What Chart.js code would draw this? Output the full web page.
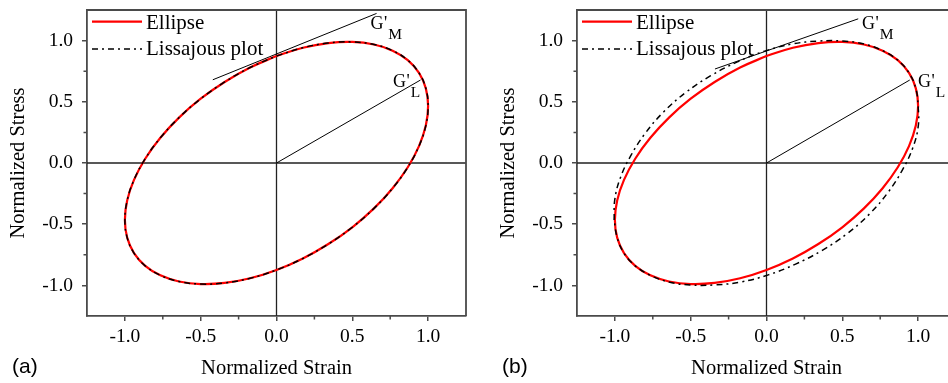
<!DOCTYPE html>
<html><head><meta charset="utf-8">
<script src="https://cdn.jsdelivr.net/npm/chart.js@4/dist/chart.umd.min.js"></script>
<style>
html,body{margin:0;padding:0;background:#fff;overflow:hidden;width:948px;height:383px;position:relative}
.w{position:absolute;top:0;width:490px;height:383px}
#wa{left:0}#wb{left:490px}
canvas{display:block}
</style></head><body>
<div class="w" id="wa"><canvas id="ca" width="490" height="383"></canvas></div>
<div class="w" id="wb"><canvas id="cb" width="490" height="383"></canvas></div>
<script>
// ---- data: [normalized strain, normalized stress] ----
const ellipseA = [[0,0.874],[0.174,0.942],[0.342,0.980],[0.500,0.989],[0.643,0.968],[0.766,0.918],[0.866,0.840],[0.940,0.736],[0.985,0.610],[1.000,0.465],[0.985,0.306],[0.940,0.138],[0.866,-0.035],[0.766,-0.206],[0.643,-0.371],[0.500,-0.525],[0.342,-0.662],[0.174,-0.780],[0,-0.874],[-0.174,-0.942],[-0.342,-0.980],[-0.500,-0.989],[-0.643,-0.968],[-0.766,-0.918],[-0.866,-0.840],[-0.940,-0.736],[-0.985,-0.610],[-1.000,-0.465],[-0.985,-0.306],[-0.940,-0.138],[-0.866,0.035],[-0.766,0.206],[-0.643,0.371],[-0.500,0.525],[-0.342,0.662],[-0.174,0.780],[0,0.874]];
const lissajousA = [[0,0.874],[0.174,0.942],[0.342,0.980],[0.500,0.989],[0.643,0.968],[0.766,0.918],[0.866,0.840],[0.940,0.736],[0.985,0.610],[1.000,0.465],[0.985,0.306],[0.940,0.138],[0.866,-0.035],[0.766,-0.206],[0.643,-0.371],[0.500,-0.525],[0.342,-0.662],[0.174,-0.780],[0,-0.874],[-0.174,-0.942],[-0.342,-0.980],[-0.500,-0.989],[-0.643,-0.968],[-0.766,-0.918],[-0.866,-0.840],[-0.940,-0.736],[-0.985,-0.610],[-1.000,-0.465],[-0.985,-0.306],[-0.940,-0.138],[-0.866,0.035],[-0.766,0.206],[-0.643,0.371],[-0.500,0.525],[-0.342,0.662],[-0.174,0.780],[0,0.874]];
const ellipseB = [[0,0.874],[0.174,0.942],[0.342,0.980],[0.500,0.989],[0.643,0.968],[0.766,0.918],[0.866,0.840],[0.940,0.736],[0.985,0.610],[1.000,0.465],[0.985,0.306],[0.940,0.138],[0.866,-0.035],[0.766,-0.206],[0.643,-0.371],[0.500,-0.525],[0.342,-0.662],[0.174,-0.780],[0,-0.874],[-0.174,-0.942],[-0.342,-0.980],[-0.500,-0.989],[-0.643,-0.968],[-0.766,-0.918],[-0.866,-0.840],[-0.940,-0.736],[-0.985,-0.610],[-1.000,-0.465],[-0.985,-0.306],[-0.940,-0.138],[-0.866,0.035],[-0.766,0.206],[-0.643,0.371],[-0.500,0.525],[-0.342,0.662],[-0.174,0.780],[0,0.874]];
const lissajousB = [[-1.005,-0.465],[-1.001,-0.301],[-0.965,-0.124],[-0.896,0.058],[-0.801,0.241],[-0.679,0.417],[-0.532,0.577],[-0.368,0.713],[-0.192,0.826],[-0.012,0.914],[0.168,0.972],[0.341,0.996],[0.500,0.997],[0.644,0.972],[0.766,0.918],[0.866,0.840],[0.940,0.736],[0.985,0.610],[1.000,0.465],[1.001,0.301],[0.965,0.124],[0.896,-0.058],[0.801,-0.241],[0.679,-0.417],[0.532,-0.577],[0.368,-0.713],[0.192,-0.826],[0.012,-0.914],[-0.168,-0.972],[-0.341,-0.996],[-0.500,-0.997],[-0.644,-0.972],[-0.766,-0.918],[-0.866,-0.840],[-0.940,-0.736],[-0.985,-0.610],[-1.005,-0.465]];
const tangentA = [[-0.42,0.68],[0.66,1.222]];
const chordA   = [[0,0],[0.95,0.678]];
const tangentB = [[-0.34,0.768],[0.605,1.178]];
const chordB   = [[0,0],[0.945,0.678]];
const xTickValues = [-1,-0.75,-0.5,-0.25,0,0.25,0.5,0.75,1];
const yTickValues = [-1,-0.75,-0.5,-0.25,0,0.25,0.5,0.75,1];
const seriesNames = ['Ellipse','Lissajous plot'];

const SERIF = '"Liberation Serif","Times New Roman",serif';
const AX = '#4a4a4a';
const isMajor = v => Math.abs(v*2 - Math.round(v*2)) < 1e-9;
const pts = arr => arr.map(p => ({x:p[0], y:p[1]}));
const DASH = [6,4,2,4];

const panels = [
  {id:'ca', ellipse:ellipseA, liss:lissajousA, tangent:tangentA, chord:chordA, letter:'(a)',
   gm:[0.62,1.093], gl:[0.769,0.618], xmax:1.25},
  {id:'cb', ellipse:ellipseB, liss:lissajousB, tangent:tangentB, chord:chordB, letter:'(b)',
   gm:[0.63,1.096], gl:[0.999,0.618], xmax:1.25}
];

function gLabel(ctx, x, y, sub){
  ctx.font = '18px ' + SERIF;
  ctx.fillStyle = '#000';
  ctx.textAlign = 'left';
  ctx.textBaseline = 'alphabetic';
  ctx.fillText('G', x, y);
  const w = ctx.measureText('G').width;
  ctx.fillText("'", x + w + 0.5, y);
  const w2 = ctx.measureText("'").width;
  ctx.font = '15.5px ' + SERIF;
  ctx.fillText(sub, x + w + w2 + 1.5, y + 10);
}

const decor = {
  id:'decor',
  beforeDatasetsDraw(chart){
    const {ctx, chartArea:a, scales:{x,y}} = chart;
    ctx.save();
    ctx.strokeStyle = '#222'; ctx.lineWidth = 1.3;
    const x0 = x.getPixelForValue(0), y0 = y.getPixelForValue(0);
    ctx.beginPath();
    ctx.moveTo(x0, a.top); ctx.lineTo(x0, a.bottom);
    ctx.moveTo(a.left, y0); ctx.lineTo(a.right, y0);
    ctx.stroke();
    ctx.restore();
  },
  afterDraw(chart, args, o){
    const {ctx, chartArea:a, scales:{x,y}} = chart;
    ctx.save();
    // frame top/right
    ctx.strokeStyle = AX; ctx.lineWidth = 1.8;
    ctx.beginPath();
    ctx.moveTo(a.left, a.top); ctx.lineTo(a.right, a.top); ctx.lineTo(a.right, a.bottom);
    ctx.stroke();
    // minor ticks
    ctx.lineWidth = 1.5;
    ctx.beginPath();
    xTickValues.filter(v => !isMajor(v)).forEach(v => {
      const px = x.getPixelForValue(v);
      ctx.moveTo(px, a.bottom); ctx.lineTo(px, a.bottom + 3.5);
    });
    yTickValues.filter(v => !isMajor(v)).forEach(v => {
      const py = y.getPixelForValue(v);
      ctx.moveTo(a.left, py); ctx.lineTo(a.left - 3.5, py);
    });
    ctx.stroke();
    // legend
    const lx = a.left + 5, lw = 50;
    ctx.strokeStyle = '#ff0000'; ctx.lineWidth = 2.2;
    ctx.beginPath(); ctx.moveTo(lx, a.top + 11.7); ctx.lineTo(lx + lw, a.top + 11.7); ctx.stroke();
    ctx.strokeStyle = '#000'; ctx.lineWidth = 1.5; ctx.setLineDash(DASH);
    ctx.beginPath(); ctx.moveTo(lx, a.top + 39); ctx.lineTo(lx + lw, a.top + 39); ctx.stroke();
    ctx.setLineDash([]);
    ctx.font = '21px ' + SERIF; ctx.fillStyle = '#000';
    ctx.textAlign = 'left'; ctx.textBaseline = 'alphabetic';
    ctx.fillText(seriesNames[0], a.left + 59, a.top + 19.3);
    ctx.fillText(seriesNames[1], a.left + 59, a.top + 45);
    // G' labels
    gLabel(ctx, x.getPixelForValue(o.gm[0]), y.getPixelForValue(o.gm[1]), 'M');
    gLabel(ctx, x.getPixelForValue(o.gl[0]), y.getPixelForValue(o.gl[1]), 'L');
    // panel letter
    ctx.font = '21px "Liberation Sans",Arial,sans-serif';
    ctx.fillText(o.letter, 12, 373);
    ctx.restore();
  }
};

panels.forEach(p => {
  new Chart(document.getElementById(p.id), {
    type:'scatter',
    data:{datasets:[
      {label:seriesNames[1], data:pts(p.liss), showLine:true, borderColor:'#000', borderWidth:1.5,
       borderDash:DASH, tension:0.4, pointRadius:0, order:0},
      {label:seriesNames[0], data:pts(p.ellipse), showLine:true, borderColor:'#ff0000', borderWidth:2.2,
       tension:0.4, pointRadius:0, order:1},
      {label:'tangent', data:pts(p.tangent), showLine:true, borderColor:'#000', borderWidth:1, pointRadius:0, order:2},
      {label:'chord', data:pts(p.chord), showLine:true, borderColor:'#000', borderWidth:1, pointRadius:0, order:2}
    ]},
    options:{
      responsive:false, animation:false, events:[], devicePixelRatio:1,
      layout:{padding:{left:0, right:24, top:10, bottom:0}},
      plugins:{legend:{display:false}, tooltip:{enabled:false}, decor:{gm:p.gm, gl:p.gl, letter:p.letter}},
      scales:{
        x:{type:'linear', min:-1.25, max:p.xmax,
           afterBuildTicks: s => { s.ticks = xTickValues.map(v => ({value:v})); },
           afterFit: s => { s.height = 67; s.paddingLeft = 0; s.paddingRight = 0; s.paddingTop = 0; s.paddingBottom = 0; },
           ticks:{autoSkip:false, maxRotation:0, padding:4.5, color:'#000',
                  font:{family:SERIF, size:19.5},
                  callback: v => isMajor(v) ? v.toFixed(1) : ''},
           grid:{drawOnChartArea:false, tickLength:5, lineWidth:1.5,
                 tickColor: c => (c.tick && isMajor(c.tick.value)) ? AX : 'rgba(0,0,0,0)'},
           border:{color:AX, width:1.8},
           title:{display:true, text:'Normalized Strain', color:'#000',
                  font:{family:SERIF, size:20.5}, padding:{top:0, bottom:2}}},
        y:{type:'linear', min:-1.25, max:1.25,
           afterBuildTicks: s => { s.ticks = yTickValues.map(v => ({value:v})); },
           afterFit: s => { s.width = 87; s.paddingLeft = 0; s.paddingRight = 0; s.paddingTop = 0; s.paddingBottom = 0; },
           ticks:{autoSkip:false, padding:9, color:'#000',
                  font:{family:SERIF, size:19.5},
                  callback: v => isMajor(v) ? v.toFixed(1) : ''},
           grid:{drawOnChartArea:false, tickLength:5, lineWidth:1.5,
                 tickColor: c => (c.tick && isMajor(c.tick.value)) ? AX : 'rgba(0,0,0,0)'},
           border:{color:AX, width:1.8},
           title:{display:true, text:'Normalized Stress', color:'#000',
                  font:{family:SERIF, size:20.5}, padding:{top:6, bottom:0}}}
      }
    },
    plugins:[decor]
  });
});
</script>
</body></html>
